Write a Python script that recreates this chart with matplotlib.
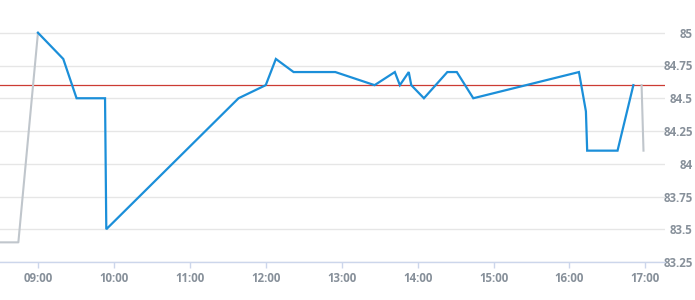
import numpy as np
import pandas as pd
import matplotlib
matplotlib.use('Agg')
import matplotlib.pyplot as plt
import matplotlib.dates as mdates

DAY = "2024-01-15 "

# gray segment before the session opens
pre_times = ["08:30", "08:44:30", "09:00"]
pre_values = [83.4, 83.4, 85.0]

# main blue series
main_times = ["09:00", "09:20", "09:30:30", "09:53", "09:54", "11:38:30",
              "12:00", "12:08", "12:22", "12:55", "13:26", "13:42",
              "13:46", "13:53", "13:55", "14:05", "14:23:30", "14:31",
              "14:44", "16:07:30", "16:13", "16:14", "16:38", "16:50:30"]
main_values = [85.0, 84.8, 84.5, 84.5, 83.5, 84.5,
               84.6, 84.8, 84.7, 84.7, 84.6, 84.7,
               84.6, 84.7, 84.6, 84.5, 84.7, 84.7,
               84.5, 84.7, 84.4, 84.1, 84.1, 84.6]

# gray segment after close
post_times = ["16:57", "16:58:30"]
post_values = [84.6, 84.1]

ref_level = 84.6
y_ticks = [83.25, 83.5, 83.75, 84, 84.25, 84.5, 84.75, 85]
y_labels = ["83.25", "83.5", "83.75", "84", "84.25", "84.5", "84.75", "85"]
x_ticks = ["09:00", "10:00", "11:00", "12:00", "13:00", "14:00", "15:00", "16:00", "17:00"]


def to_dt(ts):
    return pd.to_datetime([DAY + t for t in ts], format='mixed')


fig = plt.figure(figsize=(6.95, 3.0), dpi=100)
ax = fig.add_axes([0, (300 - 262) / 300, 665 / 695, 262 / 300])

label_color = '#87909a'
grid_color = '#e6e6e6'
axis_color = '#ccd6eb'

ax.plot(to_dt(pre_times), pre_values, color='#c0c6cc', linewidth=1.5, zorder=3)
ax.plot(to_dt(post_times), post_values, color='#c0c6cc', linewidth=1.5, zorder=3)
ax.plot(to_dt(main_times), main_values, color='#1b8fd9', linewidth=1.6,
        solid_joinstyle='miter', zorder=4)
ax.axhline(ref_level, color='#cc3b33', linewidth=0.9, zorder=2)

ax.set_xlim(pd.Timestamp(DAY + "08:30"), pd.Timestamp(DAY + "17:15:30"))
ax.set_ylim(83.25, 85.25)

ax.set_yticks(y_ticks)
ax.set_yticklabels(y_labels)
ax.set_xticks(to_dt(x_ticks))
ax.xaxis.set_major_formatter(mdates.DateFormatter('%H:%M'))

ax.yaxis.tick_right()
ax.grid(True, axis='y', color=grid_color, linewidth=1.0, zorder=0)
for side in ['top', 'left', 'right']:
    ax.spines[side].set_visible(False)
ax.spines['bottom'].set_color(axis_color)
ax.spines['bottom'].set_linewidth(1.0)

ax.tick_params(axis='y', length=0, pad=20, labelcolor=label_color, labelsize=8.3)
ax.tick_params(axis='x', length=4, width=1.0, color=axis_color, pad=3,
               labelcolor=label_color, labelsize=8.3)
for lbl in ax.get_yticklabels():
    lbl.set_horizontalalignment('right')
    lbl.set_fontfamily('Open Sans')
    lbl.set_fontweight('bold')
for lbl in ax.get_xticklabels():
    lbl.set_fontfamily('Open Sans')
    lbl.set_fontweight('bold')

fig.savefig('out.png', dpi=100)
